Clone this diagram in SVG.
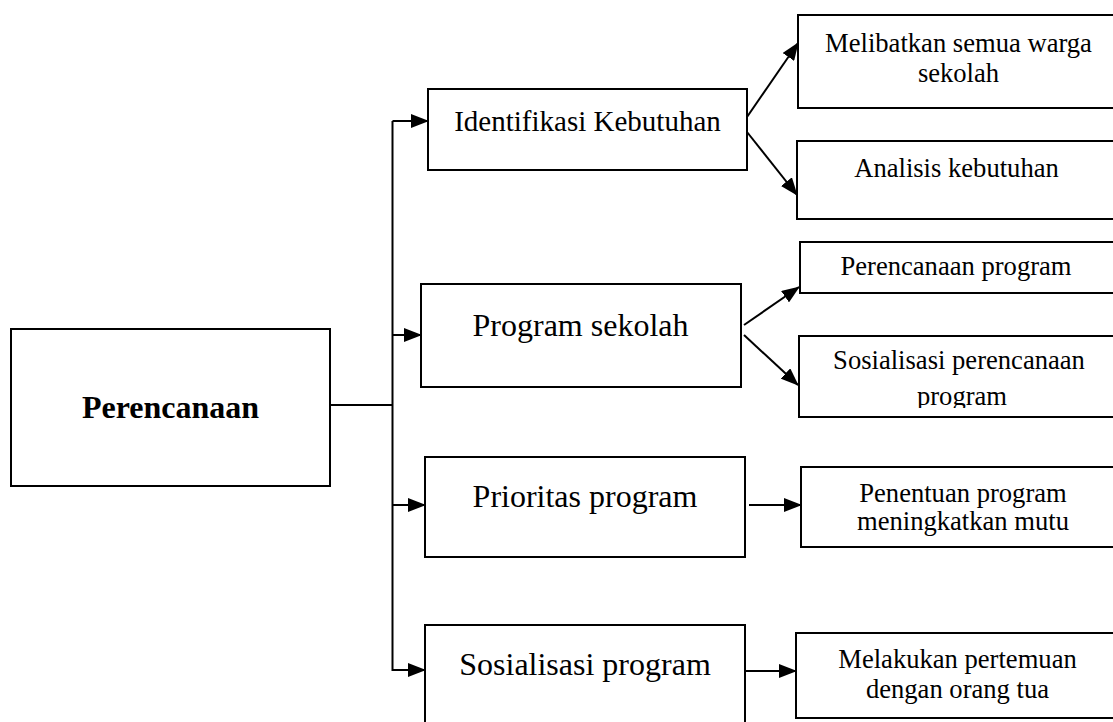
<svg xmlns="http://www.w3.org/2000/svg" width="1113" height="722" viewBox="0 0 1113 722">
<style>
.box{fill:#fff;stroke:#000;stroke-width:2}
.t{font-family:"Liberation Serif","Times New Roman",serif;fill:#000;text-anchor:middle}
.s{font-size:26.6px}
.m{font-size:32px}
.b{font-size:32px;font-weight:bold}
.c{fill:none;stroke:#000;stroke-width:2}
</style>
<defs>
<marker id="ah" markerUnits="userSpaceOnUse" markerWidth="18" markerHeight="14" refX="17" refY="7" orient="auto">
<path d="M0,0 L18,7 L0,14 z" fill="#000"/>
</marker>
<clipPath id="clipSP"><rect x="790" y="330" width="330" height="78"/></clipPath>
</defs>
<rect width="1113" height="722" fill="#fff"/>
<g id="connectors">
<path class="c" d="M330,405 H392.5"/>
<path class="c" d="M392.5,121 V671"/>
<path class="c" d="M392.5,121 H428" marker-end="url(#ah)"/>
<path class="c" d="M392.5,335 H421" marker-end="url(#ah)"/>
<path class="c" d="M392.5,505 H425" marker-end="url(#ah)"/>
<path class="c" d="M392.5,670 H425" marker-end="url(#ah)"/>
<path class="c" d="M747,117 L798,43" marker-end="url(#ah)"/>
<path class="c" d="M747,132 L797,195" marker-end="url(#ah)"/>
<path class="c" d="M744,325 L799,287" marker-end="url(#ah)"/>
<path class="c" d="M744,335 L798,385" marker-end="url(#ah)"/>
<path class="c" d="M749,505 H801" marker-end="url(#ah)"/>
<path class="c" d="M745,671 H796" marker-end="url(#ah)"/>
</g>
<g id="perencanaan">
<rect class="box" x="11" y="329" width="319" height="157"/>
<text class="t b" x="170.5" y="418">Perencanaan</text>
</g>
<g id="identifikasi">
<rect class="box" x="428" y="89" width="319" height="81"/>
<text class="t" style="font-size:29px" x="587.5" y="131">Identifikasi Kebutuhan</text>
</g>
<g id="program-sekolah">
<rect class="box" x="421" y="284" width="320" height="103"/>
<text class="t m" x="580.5" y="336">Program sekolah</text>
</g>
<g id="prioritas">
<rect class="box" x="425" y="457" width="320" height="100"/>
<text class="t m" x="585" y="507">Prioritas program</text>
</g>
<g id="sosialisasi">
<rect class="box" x="425" y="625" width="320" height="110"/>
<text class="t m" x="585" y="675">Sosialisasi program</text>
</g>
<g id="melibatkan">
<rect class="box" x="798" y="15" width="330" height="93"/>
<text class="t s" x="958.5" y="52">Melibatkan semua warga</text>
<text class="t s" x="958.5" y="82">sekolah</text>
</g>
<g id="analisis">
<rect class="box" x="797" y="141" width="330" height="78"/>
<text class="t s" x="956.5" y="177">Analisis kebutuhan</text>
</g>
<g id="perencanaan-program">
<rect class="box" x="800" y="242" width="330" height="51"/>
<text class="t s" x="956" y="275">Perencanaan program</text>
</g>
<g id="sosialisasi-perencanaan">
<rect class="box" x="799" y="336" width="330" height="81"/>
<text class="t s" x="959" y="369">Sosialisasi perencanaan</text>
<text class="t s" x="962" y="405" clip-path="url(#clipSP)">program</text>
</g>
<g id="penentuan">
<rect class="box" x="801" y="467" width="330" height="80"/>
<text class="t s" x="963" y="502">Penentuan program</text>
<text class="t s" x="963" y="530">meningkatkan mutu</text>
</g>
<g id="melakukan">
<rect class="box" x="796" y="633" width="330" height="85"/>
<text class="t s" x="957.5" y="668">Melakukan pertemuan</text>
<text class="t s" x="957.5" y="698">dengan orang tua</text>
</g>
</svg>
